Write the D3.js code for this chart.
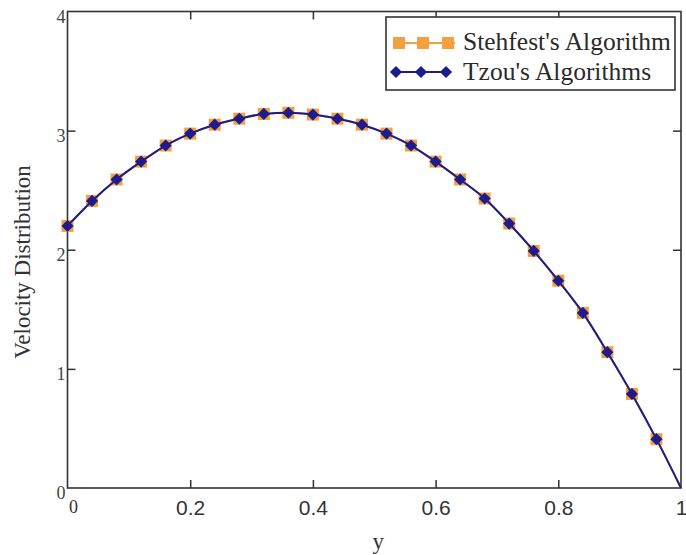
<!DOCTYPE html>
<html>
<head>
<meta charset="utf-8">
<script src="https://cdn.jsdelivr.net/npm/d3@7"></script>
<style>
  body { margin: 0; background: #fff; }
  svg { display: block; }
</style>
</head>
<body>
<svg id="chart" width="686" height="555"></svg>
<script>
// data
const yPos = [0, 0.04, 0.08, 0.12, 0.16, 0.20, 0.24, 0.28, 0.32, 0.36, 0.40, 0.44, 0.48,
              0.52, 0.56, 0.60, 0.64, 0.68, 0.72, 0.76, 0.80, 0.84, 0.88, 0.92, 0.96, 1.0];
const stehfest = [2.20, 2.41, 2.59, 2.74, 2.875, 2.975, 3.05, 3.10, 3.14, 3.15, 3.135, 3.10, 3.05,
                  2.975, 2.875, 2.74, 2.59, 2.43, 2.22, 1.99, 1.74, 1.47, 1.14, 0.79, 0.41, 0];
const tzou = [2.20, 2.41, 2.59, 2.74, 2.875, 2.975, 3.05, 3.10, 3.14, 3.15, 3.135, 3.10, 3.05,
              2.975, 2.875, 2.74, 2.59, 2.43, 2.22, 1.99, 1.74, 1.47, 1.14, 0.79, 0.41, 0];
const xTicks = [0, 0.2, 0.4, 0.6, 0.8, 1];
const yTicks = [0, 1, 2, 3, 4];
const seriesNames = ["Stehfest's Algorithm", "Tzou's Algorithms"];

const orange = "#f5a040", navy = "#1c1c8c", axisCol = "#333";
const mLeft = 67.5, mRight = 681, mTop = 11.5, mBottom = 488;

const svg = d3.select("#chart");
const x = d3.scaleLinear().domain([0, 1]).range([mLeft, mRight]);
const y = d3.scaleLinear().domain([0, 4]).range([mBottom, mTop]);

// frame
svg.append("rect").attr("x", mLeft).attr("y", mTop)
  .attr("width", mRight - mLeft).attr("height", mBottom - mTop)
  .attr("fill", "none").attr("stroke", axisCol).attr("stroke-width", 1.6);

// bottom axis, ticks inward
const xAx = svg.append("g").attr("transform", `translate(0,${mBottom})`)
  .call(d3.axisBottom(x).tickValues(xTicks).tickSize(-8).tickPadding(12)
    .tickFormat(d => d === 0 ? "0" : d3.format("~g")(d)));
xAx.select(".domain").remove();
xAx.selectAll(".tick line").attr("stroke", axisCol).attr("stroke-width", 1.5);
xAx.selectAll(".tick text").attr("fill", "#333")
  .style("font-family", "'Liberation Sans', Arial, sans-serif").style("font-size", "21px");
xAx.selectAll(".tick").filter(d => d === 0 || d === 1).select("line").remove();
xAx.selectAll(".tick").filter(d => d === 0).select("text")
  .attr("text-anchor", "start").attr("x", 1)
  .style("font-family", "'Liberation Serif', 'Times New Roman', serif").style("font-size", "18px");

// top axis ticks
const xTop = svg.append("g").attr("transform", `translate(0,${mTop})`)
  .call(d3.axisTop(x).tickValues(xTicks.filter(d => d > 0 && d < 1)).tickSize(-8).tickFormat(""));
xTop.select(".domain").remove();
xTop.selectAll(".tick line").attr("stroke", axisCol).attr("stroke-width", 1.5);

// left axis
const yAx = svg.append("g").attr("transform", `translate(${mLeft},0)`)
  .call(d3.axisLeft(y).tickValues(yTicks).tickSize(-8).tickPadding(2).tickFormat(d3.format("d")));
yAx.select(".domain").remove();
yAx.selectAll(".tick line").attr("stroke", axisCol).attr("stroke-width", 1.5);
yAx.selectAll(".tick").filter(d => d === 0 || d === 4).select("line").remove();
yAx.selectAll(".tick text").attr("fill", "#444").attr("dy", "0.6em")
  .style("font-family", "'Liberation Serif', 'Times New Roman', serif").style("font-size", "18px");

// right axis ticks
const yRight = svg.append("g").attr("transform", `translate(${mRight},0)`)
  .call(d3.axisRight(y).tickValues([1, 2, 3]).tickSize(-8).tickFormat(""));
yRight.select(".domain").remove();
yRight.selectAll(".tick line").attr("stroke", axisCol).attr("stroke-width", 1.5);

// axis titles
svg.append("text").attr("x", (mLeft + mRight) / 2 + 4).attr("y", 549)
  .attr("text-anchor", "middle").attr("fill", "#333")
  .style("font-family", "'Liberation Serif', 'Times New Roman', serif").style("font-size", "23px")
  .text("y");
svg.append("text").attr("transform", "translate(30,262) rotate(-90)")
  .attr("text-anchor", "middle").attr("fill", "#333")
  .style("font-family", "'Liberation Serif', 'Times New Roman', serif").style("font-size", "23px")
  .text("Velocity Distribution");

// series
const sData = yPos.map((d, i) => ({ x: d, v: stehfest[i] }));
const tData = yPos.map((d, i) => ({ x: d, v: tzou[i] }));
const line = d3.line().x(d => x(d.x)).y(d => y(d.v)).curve(d3.curveMonotoneX);

svg.append("path").datum(sData).attr("d", line)
  .attr("fill", "none").attr("stroke", orange).attr("stroke-width", 2);
svg.selectAll("rect.sq").data(sData.filter(d => d.x < 1)).join("rect")
  .attr("class", "sq")
  .attr("x", d => x(d.x) - 6).attr("y", d => y(d.v) - 6)
  .attr("width", 12).attr("height", 12).attr("fill", orange);

svg.append("path").datum(tData).attr("d", line)
  .attr("fill", "none").attr("stroke", navy).attr("stroke-width", 2);
const diamond = d3.symbol(d3.symbolSquare, 74);
svg.selectAll("path.dm").data(tData.filter(d => d.x < 1)).join("path")
  .attr("class", "dm")
  .attr("d", diamond)
  .attr("transform", d => `translate(${x(d.x)},${y(d.v)}) rotate(45)`)
  .attr("fill", navy);

// legend
const lg = svg.append("g");
lg.append("rect").attr("x", 386).attr("y", 17).attr("width", 289).attr("height", 73)
  .attr("fill", "#fff").attr("stroke", axisCol).attr("stroke-width", 1.6);
const sampleX = [399, 423, 448];
lg.append("line").attr("x1", 393).attr("x2", 455).attr("y1", 43).attr("y2", 43)
  .attr("stroke", orange).attr("stroke-width", 2);
lg.selectAll("rect.lsq").data(sampleX).join("rect").attr("class", "lsq")
  .attr("x", d => d - 6).attr("y", 37).attr("width", 12).attr("height", 12).attr("fill", orange);
lg.append("line").attr("x1", 393).attr("x2", 450).attr("y1", 72).attr("y2", 72)
  .attr("stroke", navy).attr("stroke-width", 2);
lg.selectAll("path.ldm").data([396, 421, 446]).join("path").attr("class", "ldm")
  .attr("d", diamond).attr("transform", d => `translate(${d},72) rotate(45)`).attr("fill", navy);
lg.selectAll("text.lt").data(seriesNames).join("text").attr("class", "lt")
  .attr("x", 463).attr("y", (d, i) => 50 + i * 30)
  .attr("fill", "#2a2a2a")
  .style("font-family", "'Liberation Serif', 'Times New Roman', serif").style("font-size", "25.5px")
  .text(d => d);
</script>
</body>
</html>
